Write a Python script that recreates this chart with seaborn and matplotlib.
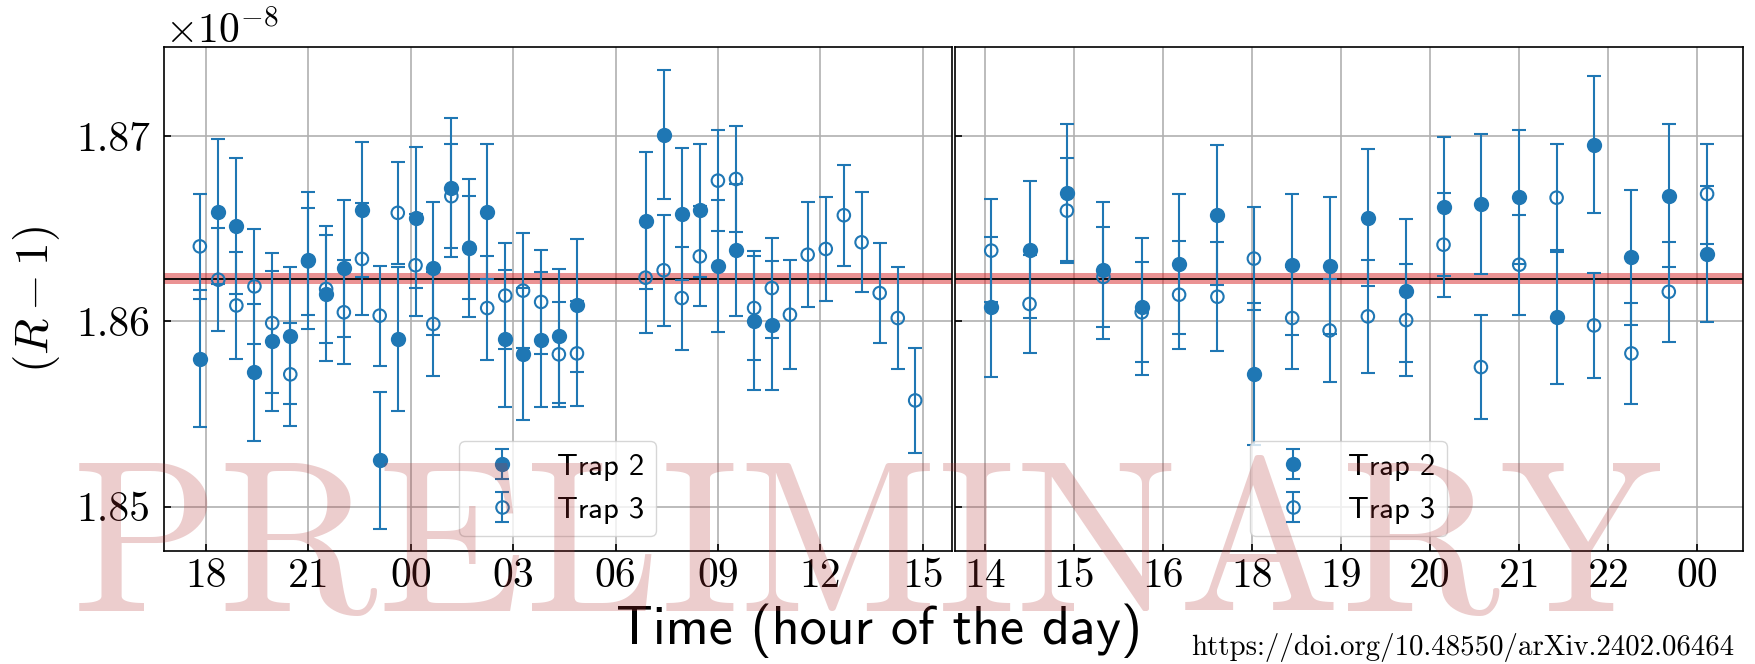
import matplotlib
matplotlib.use("Agg")
import matplotlib.pyplot as plt
import seaborn as sns
from matplotlib.lines import Line2D
from matplotlib.legend_handler import HandlerTuple

# ---------------- data (values in units of 1e-8) ----------------
# Left panel: time in hours since midnight of first day
left_time = [17.82, 18.36, 18.89, 19.42, 19.94, 20.47, 20.99, 21.52, 22.04, 22.57,
             23.09, 23.62, 24.14, 24.66, 25.19, 25.72, 26.24, 26.77, 27.29, 27.82,
             28.34, 28.87, 30.88, 31.41, 31.94, 32.47, 33.00, 33.53, 34.06, 34.58,
             35.11, 35.63, 36.16, 36.69, 37.21, 37.74, 38.27, 38.78]

left_trap2 = [1.85798, 1.86593, 1.86514, 1.85726, 1.85894, 1.85923, 1.86330, 1.86150,
              1.86286, 1.86604, 1.85249, 1.85906, 1.86560, 1.86286, 1.86721, 1.86396,
              1.86593, 1.85906, 1.85825, 1.85901, 1.85921, 1.86086, 1.86544, 1.87009,
              1.86580, 1.86600, 1.86301, 1.86384, 1.86004, 1.85978]
left_trap2_err = [0.00369, 0.00393, 0.00366, 0.00370, 0.00380, 0.00370, 0.00370, 0.00363,
                  0.00370, 0.00364, 0.00370, 0.00390, 0.00380, 0.00360, 0.00375, 0.00373,
                  0.00366, 0.00370, 0.00357, 0.00365, 0.00362, 0.00360, 0.00370, 0.00348,
                  0.00357, 0.00360, 0.00356, 0.00357, 0.00376, 0.00350]

left_trap3 = [1.86405, 1.86225, 1.86086, 1.86189, 1.85991, 1.85714, 1.86324, 1.86175,
              1.86049, 1.86337, 1.86031, 1.86586, 1.86303, 1.85986, 1.86676, 1.86398,
              1.86072, 1.86139, 1.86166, 1.86105, 1.85822, 1.85827, 1.86236, 1.86276,
              1.86126, 1.86351, 1.86760, 1.86769, 1.86072, 1.86180, 1.86036, 1.86360,
              1.86391, 1.86573, 1.86427, 1.86153, 1.86018, 1.85573]
left_trap3_err = [0.00285, 0.00279, 0.00290, 0.00310, 0.00380, 0.00277, 0.00288, 0.00293,
                  0.00280, 0.00300, 0.00270, 0.00277, 0.00276, 0.00280, 0.00280, 0.00277,
                  0.00280, 0.00286, 0.00310, 0.00282, 0.00282, 0.00283, 0.00300, 0.00300,
                  0.00278, 0.00270, 0.00273, 0.00288, 0.00280, 0.00270, 0.00293, 0.00285,
                  0.00280, 0.00272, 0.00270, 0.00272, 0.00273, 0.00283]

left_tick_pos = [18, 21, 24, 27, 30, 33, 36, 39]
left_tick_labels = ["18", "21", "00", "03", "06", "09", "12", "15"]

# Right panel: position on the (non-uniform) time axis, in tick units
right_pos = [0.07, 0.50, 0.92, 1.33, 1.76, 2.18, 2.61, 3.02, 3.45, 3.87,
             4.30, 4.73, 5.15, 5.57, 6.00, 6.42, 6.84, 7.26, 7.68, 8.11]
right_trap2 = [1.86077, 1.86387, 1.86694, 1.86276, 1.86079, 1.86310, 1.86575, 1.85715,
               1.86306, 1.86301, 1.86560, 1.86166, 1.86618, 1.86634, 1.86670, 1.86023,
               1.86955, 1.86346, 1.86679, 1.86362]
right_trap2_err = [0.00380, 0.00370, 0.00370, 0.00370, 0.00370, 0.00380, 0.00380, 0.00384,
                   0.00380, 0.00370, 0.00370, 0.00385, 0.00375, 0.00378, 0.00362, 0.00360,
                   0.00371, 0.00366, 0.00386, 0.00368]
right_trap3 = [1.86382, 1.86094, 1.86598, 1.86240, 1.86049, 1.86144, 1.86133, 1.86339,
               1.86018, 1.85951, 1.86027, 1.86007, 1.86414, 1.85753, 1.86306, 1.86668,
               1.85978, 1.85827, 1.86160, 1.86688]
right_trap3_err = [0.00280, 0.00265, 0.00282, 0.00270, 0.00270, 0.00292, 0.00295, 0.00277,
                   0.00274, 0.00280, 0.00304, 0.00303, 0.00280, 0.00280, 0.00270, 0.00292,
                   0.00282, 0.00272, 0.00270, 0.00270]

right_tick_pos = [0, 1, 2, 3, 4, 5, 6, 7, 8]
right_tick_labels = ["14", "15", "16", "18", "19", "20", "21", "22", "00"]

ref_value = 1.8623
ref_halfwidth = 0.0003
y_ticks = [1.85, 1.86, 1.87]
y_tick_labels = ["1.85", "1.86", "1.87"]
legend_labels = ["Trap 2", "Trap 3"]

# ---------------- style ----------------
sns.set_theme(style="whitegrid")
plt.rcParams.update({
    "font.family": ["cmr10", "DejaVu Serif"],
    "mathtext.fontset": "cm",
    "axes.formatter.use_mathtext": True,
    "text.color": "black",
    "axes.labelcolor": "black",
    "axes.edgecolor": "black",
    "axes.linewidth": 1.2,
    "axes.facecolor": "white",
    "grid.color": "#b0b0b0",
    "grid.linewidth": 1.2,
    "xtick.direction": "in",
    "ytick.direction": "in",
    "xtick.bottom": True,
    "ytick.left": True,
    "xtick.major.size": 5,
    "ytick.major.size": 5,
    "xtick.major.width": 1.2,
    "ytick.major.width": 1.2,
    "xtick.color": "black",
    "ytick.color": "black",
    "xtick.labelcolor": "black",
    "ytick.labelcolor": "black",
    "legend.frameon": True,
    "legend.framealpha": 0.8,
    "legend.edgecolor": "0.8",
    "legend.fancybox": True,
    "legend.labelcolor": "black",
})

BLUE = "#1f77b4"
W, H = 1755, 664
fig = plt.figure(figsize=(W / 100, H / 100), dpi=100)
ax1 = fig.add_axes([164 / W, 1 - 551 / H, (951.7 - 164) / W, (551 - 47.3) / H])
ax2 = fig.add_axes([955 / W, 1 - 551 / H, (1742.7 - 955) / W, (551 - 47.3) / H], sharey=ax1)


def draw_panel(ax, x2, y2, e2, x3, y3, e3):
    ax.axhspan(ref_value - ref_halfwidth, ref_value + ref_halfwidth,
               color="#d62728", alpha=0.5, lw=0, zorder=1.5)
    ax.axhline(ref_value, color="black", lw=1.3, zorder=1.6)
    eb2 = ax.errorbar(x2, y2, yerr=e2, fmt="none", ecolor=BLUE, elinewidth=1.5,
                      capsize=4.8, capthick=1.5, zorder=3)
    eb3 = ax.errorbar(x3, y3, yerr=e3, fmt="none", ecolor=BLUE, elinewidth=1.5,
                      capsize=4.8, capthick=1.5, zorder=3)
    sns.scatterplot(x=x2, y=y2, ax=ax, color=BLUE, s=121, linewidth=0, zorder=4)
    sns.scatterplot(x=x3, y=y3, ax=ax, facecolor="none", edgecolor=BLUE, s=81,
                    linewidth=1.5, zorder=4)
    m2 = Line2D([], [], ls="", marker="o", color=BLUE, markersize=11, markeredgewidth=0)
    m3 = Line2D([], [], ls="", marker="o", markerfacecolor="none", markeredgecolor=BLUE,
                markersize=9, markeredgewidth=1.5)
    ax.legend(handles=[(eb2, m2), (eb3, m3)], labels=legend_labels, loc="lower center",
              handler_map={tuple: HandlerTuple(ndivide=1)},
              prop={"family": "cmss10", "size": 22})
    ax.grid(True, zorder=0)
    ax.set_axisbelow(True)
    for s in ax.spines.values():
        s.set_color("black")
        s.set_linewidth(1.2)


draw_panel(ax1, left_time[:len(left_trap2)], left_trap2, left_trap2_err,
           left_time, left_trap3, left_trap3_err)
draw_panel(ax2, right_pos, right_trap2, right_trap2_err,
           right_pos, right_trap3, right_trap3_err)

ax1.set_xlim(16.77, 39.85)
ax2.set_xlim(-0.337, 8.51)
ax1.set_ylim(1.8476, 1.8748)

ax1.set_xticks(left_tick_pos, labels=left_tick_labels)
ax2.set_xticks(right_tick_pos, labels=right_tick_labels)
ax1.set_yticks(y_ticks, labels=y_tick_labels)
for ax in (ax1, ax2):
    ax.tick_params(axis="x", labelsize=30, pad=5)
    ax.tick_params(axis="y", labelsize=30, pad=10)
    for lab in ax.get_xticklabels() + ax.get_yticklabels():
        lab.set_family("cmr10")
ax2.tick_params(axis="y", labelleft=False)

ax1.set_ylabel(r"$(R-1)$", fontsize=34, color="black")
ax1.yaxis.set_label_coords(-0.1295, 0.5)

fig.text(165 / W, 1 - 43.3 / H, r"$\times10^{-8}$", fontsize=30, ha="left", va="baseline",
         color="black")
fig.text(0.5006, 1 - 643.6 / H, "Time (hour of the day)", family="cmss10", fontsize=39,
         ha="center", va="baseline", color="black")
fig.text(1734 / W, 1 - 655 / H, "https://doi.org/10.48550/arXiv.2402.06464",
         family="cmr10", fontsize=20.8, ha="right", va="baseline", color="black")
fig.text(0.4943, 1 - 610 / H, "PRELIMINARY", family="cmr10", fontsize=156,
         color="#b03030", alpha=0.24, ha="center", va="baseline", zorder=10)

fig.savefig("out.png", dpi=100)
